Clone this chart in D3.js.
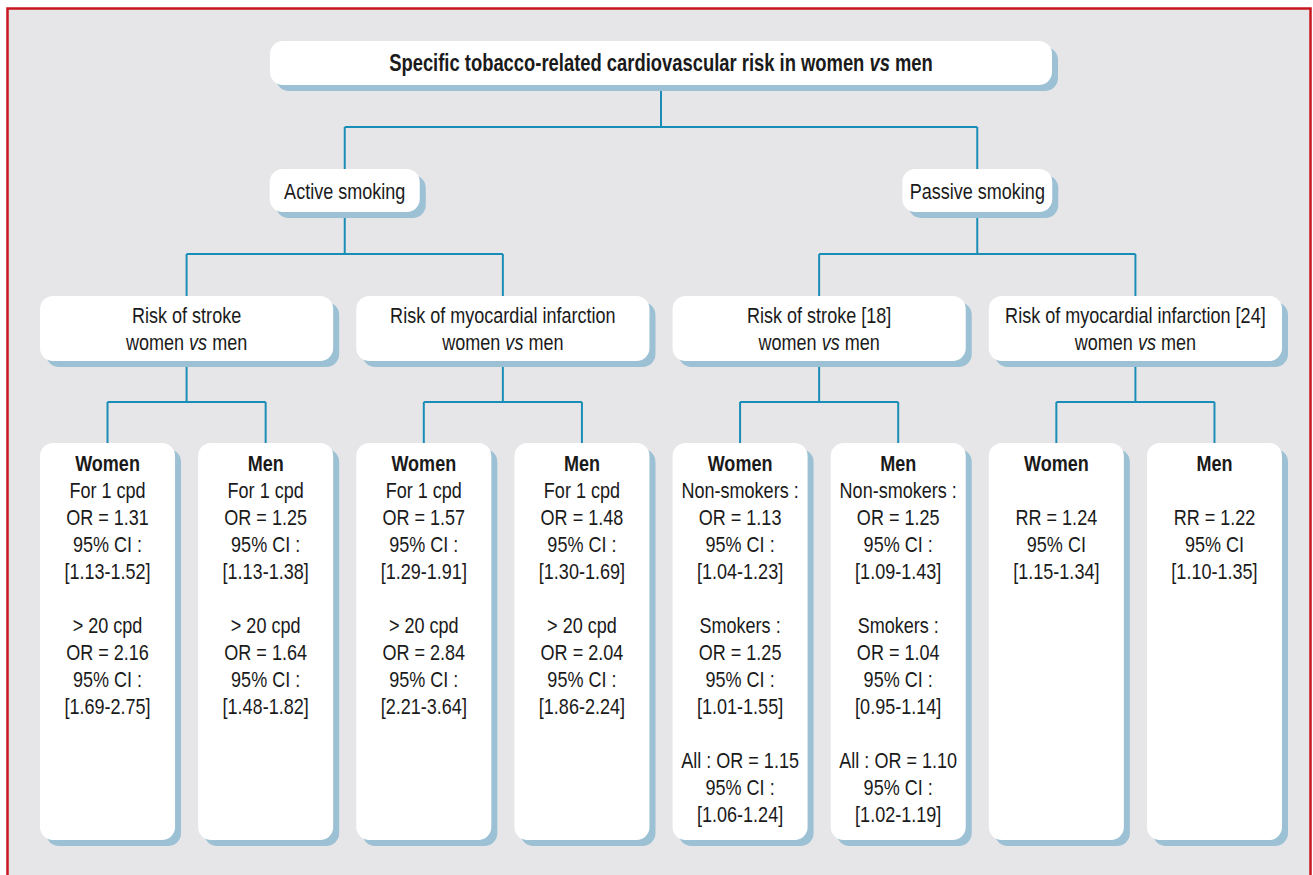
<!DOCTYPE html>
<html>
<head>
<meta charset="utf-8">
<script src="https://cdn.jsdelivr.net/npm/d3@7"></script>
<style>
  html, body { margin: 0; padding: 0; background: #fff; }
  svg { display: block; }
  text { font-family: "Liberation Sans Narrow", "Arial Narrow", "Liberation Sans", sans-serif; fill: #1a1a1a; }
</style>
</head>
<body>
<svg id="chart"></svg>
<script>
// Tree content, top to bottom. "*vs*" marks italic words.
const TITLE = 'Specific tobacco-related cardiovascular risk in women *vs* men';
const EXPOSURES = ['Active smoking', 'Passive smoking'];
const OUTCOMES = [
  ['Risk of stroke', 'women *vs* men'],
  ['Risk of myocardial infarction', 'women *vs* men'],
  ['Risk of stroke [18]', 'women *vs* men'],
  ['Risk of myocardial infarction [24]', 'women *vs* men']
];
const OUTCOME_EXPOSURE = [0, 0, 1, 1];
const SEXES = ['Women', 'Men'];
const LEAF_LINES = [
  ['For 1 cpd', 'OR = 1.31', '95% CI :', '[1.13-1.52]', '', '> 20 cpd', 'OR = 2.16', '95% CI :', '[1.69-2.75]'],
  ['For 1 cpd', 'OR = 1.25', '95% CI :', '[1.13-1.38]', '', '> 20 cpd', 'OR = 1.64', '95% CI :', '[1.48-1.82]'],
  ['For 1 cpd', 'OR = 1.57', '95% CI :', '[1.29-1.91]', '', '> 20 cpd', 'OR = 2.84', '95% CI :', '[2.21-3.64]'],
  ['For 1 cpd', 'OR = 1.48', '95% CI :', '[1.30-1.69]', '', '> 20 cpd', 'OR = 2.04', '95% CI :', '[1.86-2.24]'],
  ['Non-smokers :', 'OR = 1.13', '95% CI :', '[1.04-1.23]', '', 'Smokers :', 'OR = 1.25', '95% CI :', '[1.01-1.55]', '', 'All : OR = 1.15', '95% CI :', '[1.06-1.24]'],
  ['Non-smokers :', 'OR = 1.25', '95% CI :', '[1.09-1.43]', '', 'Smokers :', 'OR = 1.04', '95% CI :', '[0.95-1.14]', '', 'All : OR = 1.10', '95% CI :', '[1.02-1.19]'],
  ['', 'RR = 1.24', '95% CI', '[1.15-1.34]'],
  ['', 'RR = 1.22', '95% CI', '[1.10-1.35]']
];

const width = 1313;
const height = 875;

const COLORS = {
  background: '#e6e6e8',
  frame: '#c8171f',
  box: '#ffffff',
  shadow: '#9cc0d4',
  link: '#1a8db6'
};

// build the hierarchy from the arrays
const data = {
  lines: [TITLE],
  children: EXPOSURES.map((e, i) => ({
    lines: [e],
    children: OUTCOMES.map((o, j) => ({ o, j })).filter(d => OUTCOME_EXPOSURE[d.j] === i).map(({ o, j }) => ({
      lines: o,
      children: SEXES.map((s, k) => ({ title: s, lines: LEAF_LINES[j * 2 + k] }))
    }))
  }))
};

const root = d3.hierarchy(data);
const leaves = root.leaves();

// horizontal placement: leaves on a band scale, parents centred above children
const x = d3.scaleBand()
  .domain(d3.range(leaves.length))
  .range([40, 1282])
  .paddingInner(0.146)
  .paddingOuter(0);

leaves.forEach((d, i) => {
  d.x0 = x(i);
  d.x1 = x(i) + x.bandwidth();
});
root.eachAfter(d => {
  if (d.children) {
    d.cx = d3.mean(d.children, c => c.cx);
    const lo = d3.min(d.leaves(), l => l.x0);
    const hi = d3.max(d.leaves(), l => l.x1);
    if (d.depth === 2) { d.x0 = lo; d.x1 = hi; }
    else if (d.depth === 1) { d.x0 = d.cx - 75; d.x1 = d.cx + 75; }
    else { d.x0 = d.cx - 391; d.x1 = d.cx + 391; }
  } else {
    d.cx = (d.x0 + d.x1) / 2;
  }
});

// vertical placement per depth
const levelTop = [41, 169, 296, 443];
const levelHeight = [44, 43, 65, 397];
root.each(d => {
  d.y0 = levelTop[d.depth];
  d.y1 = d.y0 + levelHeight[d.depth];
});

const svg = d3.select('#chart')
  .attr('width', width)
  .attr('height', height);

// frame
svg.append('rect')
  .attr('x', 7.5)
  .attr('y', 8.5)
  .attr('width', 1303)
  .attr('height', 900)
  .attr('fill', COLORS.background)
  .attr('stroke', COLORS.frame)
  .attr('stroke-width', 2.5);

// elbow connectors
const linkGroup = svg.append('g')
  .attr('fill', 'none')
  .attr('stroke', COLORS.link)
  .attr('stroke-width', 2);

root.descendants().filter(d => d.children).forEach(d => {
  const midY = (d.y1 + d.children[0].y0) / 2;
  const xs = d.children.map(c => c.cx);
  linkGroup.append('path')
    .attr('d', `M${d.cx},${d.y1}V${midY}`);
  linkGroup.append('path')
    .attr('d', `M${d3.min(xs)},${midY}H${d3.max(xs)}`);
  d.children.forEach(c => {
    linkGroup.append('path')
      .attr('d', `M${c.cx},${midY}V${c.y0}`);
  });
});

// boxes with offset shadow
const nodes = svg.append('g')
  .selectAll('g')
  .data(root.descendants())
  .join('g');

nodes.append('rect')
  .attr('x', d => d.x0 + 6)
  .attr('y', d => d.y0 + 6)
  .attr('width', d => d.x1 - d.x0)
  .attr('height', d => d.y1 - d.y0)
  .attr('rx', 13)
  .attr('fill', COLORS.shadow);

nodes.append('rect')
  .attr('x', d => d.x0)
  .attr('y', d => d.y0)
  .attr('width', d => d.x1 - d.x0)
  .attr('height', d => d.y1 - d.y0)
  .attr('rx', 13)
  .attr('fill', COLORS.box);

// write a line with *italic* segments
function writeLine(text, line) {
  line.split('*').forEach((part, i) => {
    if (!part) return;
    text.append('tspan')
      .attr('font-style', i % 2 ? 'italic' : null)
      .text(part);
  });
}

const lineHeight = 27;

nodes.each(function(d) {
  const g = d3.select(this);
  const allLines = d.data.title ? [d.data.title].concat(d.data.lines) : d.data.lines;
  const firstBaseline = d.depth === 3
    ? d.y0 + 28
    : (d.y0 + d.y1) / 2 + 8 - (allLines.length - 1) * lineHeight / 2;
  // condensed look of the original typeface
  const squeeze = d.depth === 0 ? 0.8 : 0.82;

  allLines.forEach((line, i) => {
    if (!line) return;
    const t = g.append('text')
      .attr('transform', `translate(${d.cx},${firstBaseline + i * lineHeight}) scale(${squeeze},1)`)
      .attr('text-anchor', 'middle')
      .attr('font-size', d.depth === 0 ? 23 : 22)
      .attr('font-weight', (d.depth === 0 || (d.depth === 3 && i === 0)) ? 'bold' : null);
    writeLine(t, line);
  });
});
</script>
</body>
</html>
